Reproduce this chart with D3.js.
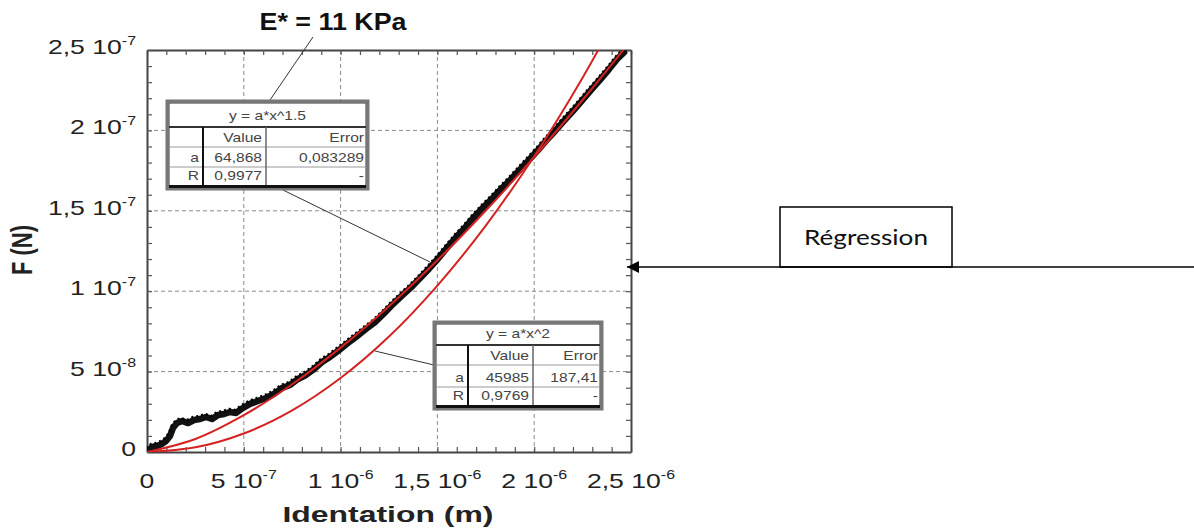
<!DOCTYPE html>
<html>
<head>
<meta charset="utf-8">
<script src="https://cdn.jsdelivr.net/npm/d3@7"></script>
<style>
  body { margin: 0; background: #fff; }
  svg { display: block; }
</style>
</head>
<body>
<div id="chart"></div>
<script>
// values (SI units: m, N)
const xTicks = [0, 5e-7, 1e-6, 1.5e-6, 2e-6, 2.5e-6];
const xTickLabels = [['0', ''], ['5 10', '-7'], ['1 10', '-6'], ['1,5 10', '-6'], ['2 10', '-6'], ['2,5 10', '-6']];
const yTicks = [0, 5e-8, 1e-7, 1.5e-7, 2e-7, 2.5e-7];
const yTickLabels = [['0', ''], ['5 10', '-8'], ['1 10', '-7'], ['1,5 10', '-7'], ['2 10', '-7'], ['2,5 10', '-7']];

// measured indentation curve
const measured = [
  [0, 0.06e-8], [0.026e-6, 0.31e-8], [0.052e-6, 0.37e-8], [0.077e-6, 0.50e-8], [0.098e-6, 0.68e-8],
  [0.119e-6, 1.0e-8], [0.134e-6, 1.49e-8], [0.155e-6, 1.80e-8], [0.181e-6, 1.93e-8], [0.212e-6, 1.80e-8],
  [0.243e-6, 1.99e-8], [0.274e-6, 2.05e-8], [0.305e-6, 2.18e-8], [0.336e-6, 2.05e-8], [0.367e-6, 2.30e-8],
  [0.398e-6, 2.36e-8], [0.429e-6, 2.49e-8], [0.460e-6, 2.43e-8], [0.496e-6, 2.74e-8], [0.532e-6, 2.99e-8],
  [0.573e-6, 3.17e-8], [0.615e-6, 3.36e-8], [0.656e-6, 3.61e-8], [0.697e-6, 3.98e-8], [0.739e-6, 4.17e-8],
  [0.780e-6, 4.54e-8], [0.821e-6, 4.79e-8], [0.863e-6, 5.16e-8], [0.904e-6, 5.60e-8], [0.945e-6, 5.91e-8],
  [0.992e-6, 6.34e-8], [1.038e-6, 6.78e-8], [1.085e-6, 7.21e-8], [1.131e-6, 7.65e-8], [1.178e-6, 8.08e-8],
  [1.224e-6, 8.62e-8], [1.271e-6, 9.20e-8], [1.317e-6, 9.72e-8], [1.364e-6, 10.24e-8], [1.410e-6, 10.80e-8],
  [1.457e-6, 11.40e-8], [1.503e-6, 12.02e-8], [1.550e-6, 12.70e-8], [1.596e-6, 13.35e-8], [1.643e-6, 13.95e-8],
  [1.689e-6, 14.60e-8], [1.736e-6, 15.20e-8], [1.782e-6, 15.75e-8], [1.829e-6, 16.35e-8], [1.875e-6, 16.90e-8],
  [1.921e-6, 17.50e-8], [1.968e-6, 18.10e-8], [2.014e-6, 18.70e-8], [2.061e-6, 19.35e-8], [2.107e-6, 19.95e-8],
  [2.154e-6, 20.60e-8], [2.200e-6, 21.20e-8], [2.247e-6, 21.85e-8], [2.293e-6, 22.50e-8], [2.340e-6, 23.15e-8],
  [2.386e-6, 23.80e-8], [2.433e-6, 24.50e-8], [2.464e-6, 24.85e-8]
];

// fitted curves
const fitPow15 = [
  [0, 0], [0.25e-6, 0.81e-8], [0.5e-6, 2.29e-8], [0.75e-6, 4.21e-8], [1e-6, 6.49e-8], [1.25e-6, 9.07e-8],
  [1.5e-6, 11.92e-8], [1.75e-6, 15.02e-8], [2e-6, 18.35e-8], [2.25e-6, 21.89e-8], [2.5e-6, 25.6e-8]
];
const fitPow2 = [
  [0, 0], [0.25e-6, 0.29e-8], [0.5e-6, 1.15e-8], [0.75e-6, 2.59e-8], [1e-6, 4.60e-8], [1.25e-6, 7.18e-8],
  [1.5e-6, 10.35e-8], [1.75e-6, 14.08e-8], [2e-6, 18.39e-8], [2.25e-6, 23.28e-8], [2.5e-6, 28.74e-8]
];

// fit result tables
const table15Title = 'y = a*x^1.5';
const table15Rows = [['', 'Value', 'Error'], ['a', '64,868', '0,083289'], ['R', '0,9977', '-']];
const table2Title = 'y = a*x^2';
const table2Rows = [['', 'Value', 'Error'], ['a', '45985', '187,41'], ['R', '0,9769', '-']];

const W = 1194, H = 529;
const plot = {left: 147, right: 631, top: 50, bottom: 452};
const stretch = 1.33; // the source picture is widened horizontally

const svg = d3.select('#chart').append('svg')
  .attr('width', W).attr('height', H)
  .style('font-family', '"Liberation Sans", Arial, sans-serif');

const x = d3.scaleLinear().domain([0, 2.5e-6]).range([plot.left, plot.right]);
const y = d3.scaleLinear().domain([0, 2.5e-7]).range([plot.bottom, plot.top]);

svg.append('defs').append('clipPath').attr('id', 'clip')
  .append('rect')
  .attr('x', plot.left).attr('y', plot.top)
  .attr('width', plot.right - plot.left).attr('height', plot.bottom - plot.top);

// grid
const grid = svg.append('g').attr('stroke', '#8a8a8a').attr('stroke-width', 1).attr('stroke-dasharray', '4,3');
grid.selectAll('.gx').data(xTicks.slice(1, -1)).join('line')
  .attr('x1', d => x(d)).attr('x2', d => x(d)).attr('y1', plot.top).attr('y2', plot.bottom);
grid.selectAll('.gy').data(yTicks.slice(1, -1)).join('line')
  .attr('y1', d => y(d)).attr('y2', d => y(d)).attr('x1', plot.left).attr('x2', plot.right);

// minor ticks: 5 steps between labelled values
const xMinor = d3.range(0, 26).map(i => i * 1e-7);
const yMinor = d3.range(0, 26).map(i => i * 1e-8);

function styleAxis(g) {
  g.selectAll('text').remove();
  g.select('.domain').attr('stroke', '#444').attr('stroke-width', 2);
  g.selectAll('.tick line').attr('stroke', '#555').attr('stroke-width', 1.2);
}
svg.append('g').attr('transform', `translate(0,${plot.bottom})`)
  .call(d3.axisBottom(x).tickValues(xMinor).tickSize(-5).tickSizeOuter(0)).call(styleAxis);
svg.append('g').attr('transform', `translate(0,${plot.top})`)
  .call(d3.axisTop(x).tickValues(xMinor).tickSize(-5).tickSizeOuter(0)).call(styleAxis);
svg.append('g').attr('transform', `translate(${plot.left},0)`)
  .call(d3.axisLeft(y).tickValues(yMinor).tickSize(-5).tickSizeOuter(0)).call(styleAxis);
svg.append('g').attr('transform', `translate(${plot.right},0)`)
  .call(d3.axisRight(y).tickValues(yMinor).tickSize(-5).tickSizeOuter(0)).call(styleAxis);

// tick labels with superscript exponents
function tickLabel(sel, anchor) {
  sel.attr('text-anchor', anchor).attr('font-size', 20).attr('fill', '#222');
  sel.append('tspan').text(d => d[0]);
  sel.append('tspan').attr('font-size', 12).attr('dy', -9).text(d => d[1]);
}
svg.append('g').selectAll('text').data(xTickLabels).join('text')
  .attr('transform', (d, i) => `translate(${x(xTicks[i])},488) scale(${stretch},1)`)
  .call(tickLabel, 'middle');
svg.append('g').selectAll('text').data(yTickLabels).join('text')
  .attr('transform', (d, i) => `translate(136,${y(yTicks[i]) + 4}) scale(${stretch},1)`)
  .call(tickLabel, 'end');

// axis titles
svg.append('text')
  .attr('transform', `translate(32,250) scale(${stretch},1) rotate(-90)`)
  .attr('text-anchor', 'middle').attr('font-size', 22).attr('font-weight', 'bold').attr('fill', '#222')
  .text('F (N)');
svg.append('text')
  .attr('x', 388).attr('y', 522)
  .attr('text-anchor', 'middle').attr('font-size', 22).attr('font-weight', 'bold').attr('fill', '#222')
  .attr('textLength', 211).attr('lengthAdjust', 'spacingAndGlyphs')
  .text('Identation (m)');
svg.append('text')
  .attr('x', 333).attr('y', 30)
  .attr('text-anchor', 'middle').attr('font-size', 23).attr('font-weight', 'bold').attr('fill', '#111')
  .attr('textLength', 147).attr('lengthAdjust', 'spacingAndGlyphs')
  .text('E* = 11 KPa');

// curves
const line = d3.line().x(d => x(d[0])).y(d => y(d[1]));
const smooth = d3.line().x(d => x(d[0])).y(d => y(d[1])).curve(d3.curveCatmullRom);
const curves = svg.append('g').attr('clip-path', 'url(#clip)');
curves.append('path').datum(measured)
  .attr('fill', 'none').attr('stroke', '#111').attr('stroke-width', 6.5)
  .attr('stroke-linejoin', 'round').attr('stroke-linecap', 'round').attr('d', line);
curves.append('path').datum(measured)
  .attr('fill', 'none').attr('stroke', '#000').attr('stroke-width', 2.5)
  .attr('stroke-dasharray', '2,3').attr('transform', 'translate(-1,-3)').attr('d', line);
curves.append('path').datum(fitPow15)
  .attr('fill', 'none').attr('stroke', '#d42222').attr('stroke-width', 2).attr('d', smooth);
curves.append('path').datum(fitPow2)
  .attr('fill', 'none').attr('stroke', '#d42222').attr('stroke-width', 2).attr('d', smooth);

// leader lines
const leaders = [
  [[313, 37], [270, 100]],
  [[283, 190], [430, 262]],
  [[375, 351], [434, 365]]
];
svg.append('g').selectAll('line').data(leaders).join('line')
  .attr('x1', d => d[0][0]).attr('y1', d => d[0][1])
  .attr('x2', d => d[1][0]).attr('y2', d => d[1][1])
  .attr('stroke', '#333').attr('stroke-width', 1);

// result tables
function drawTable(x0, y0, cols, rowsH, title, rows) {
  const g = svg.append('g');
  const w = d3.sum(cols);
  const h = d3.sum(rowsH) + 4;
  g.append('rect').attr('x', x0).attr('y', y0).attr('width', w).attr('height', h)
    .attr('fill', '#fff').attr('stroke', '#777').attr('stroke-width', 3);
  g.append('rect').attr('x', x0 + 2).attr('y', y0 + 2).attr('width', w - 4).attr('height', h - 4)
    .attr('fill', 'none').attr('stroke', '#333').attr('stroke-width', 1);
  const rowY = [y0];
  rowsH.forEach(rh => rowY.push(rowY[rowY.length - 1] + rh));
  const colX = [x0];
  cols.forEach(cw => colX.push(colX[colX.length - 1] + cw));
  // title row
  g.append('line').attr('x1', x0 + 2).attr('x2', x0 + w - 2).attr('y1', rowY[1]).attr('y2', rowY[1])
    .attr('stroke', '#333').attr('stroke-width', 2);
  g.append('text').attr('transform', `translate(${x0 + w / 2},${rowY[1] - 7}) scale(1.3,1)`)
    .attr('text-anchor', 'middle').attr('font-size', 12).attr('fill', '#444').text(title);
  for (let r = 2; r < rowY.length - 1; r++) {
    g.append('line').attr('x1', x0 + 2).attr('x2', x0 + w - 2).attr('y1', rowY[r]).attr('y2', rowY[r])
      .attr('stroke', '#999').attr('stroke-width', 1.2);
  }
  g.append('line').attr('x1', colX[1]).attr('x2', colX[1]).attr('y1', rowY[1]).attr('y2', rowY[rowY.length - 1])
    .attr('stroke', '#111').attr('stroke-width', 2);
  g.append('line').attr('x1', colX[2]).attr('x2', colX[2]).attr('y1', rowY[1]).attr('y2', rowY[rowY.length - 1])
    .attr('stroke', '#666').attr('stroke-width', 1.5);
  // bottom bar
  g.append('rect').attr('x', x0 + 2).attr('y', rowY[rowY.length - 1]).attr('width', w - 4).attr('height', 3)
    .attr('fill', '#111');
  rows.forEach((row, r) => {
    row.forEach((cell, c) => {
      g.append('text')
        .attr('transform', `translate(${colX[c + 1] - 4},${rowY[r + 2] - 5}) scale(1.3,1)`)
        .attr('text-anchor', 'end').attr('font-size', 12).attr('fill', '#444').text(cell);
    });
  });
}
drawTable(167, 101, [36, 63, 102], [26, 20, 20, 18], table15Title, table15Rows);
drawTable(434, 322, [34, 65, 69], [23, 20, 22, 18], table2Title, table2Rows);

// "Régression" callout with arrow
svg.append('defs').append('marker')
  .attr('id', 'arrow').attr('viewBox', '0 0 10 10').attr('refX', 10).attr('refY', 5)
  .attr('markerWidth', 12).attr('markerHeight', 12).attr('markerUnits', 'userSpaceOnUse')
  .attr('orient', 'auto')
  .append('path').attr('d', 'M0,0 L10,5 L0,10 Z').attr('fill', '#000');
svg.append('rect').attr('x', 780).attr('y', 207).attr('width', 172).attr('height', 60)
  .attr('fill', '#fff').attr('stroke', '#000').attr('stroke-width', 1.5);
svg.append('text').attr('x', 866).attr('y', 245)
  .attr('text-anchor', 'middle').attr('font-size', 22).attr('fill', '#111')
  .attr('textLength', 124).attr('lengthAdjust', 'spacingAndGlyphs')
  .style('font-family', 'Lato, "Open Sans", sans-serif')
  .text('Régression');
svg.append('line').attr('x1', 1194).attr('y1', 267).attr('x2', 627).attr('y2', 267)
  .attr('stroke', '#000').attr('stroke-width', 1.5).attr('marker-end', 'url(#arrow)');
</script>
</body>
</html>
